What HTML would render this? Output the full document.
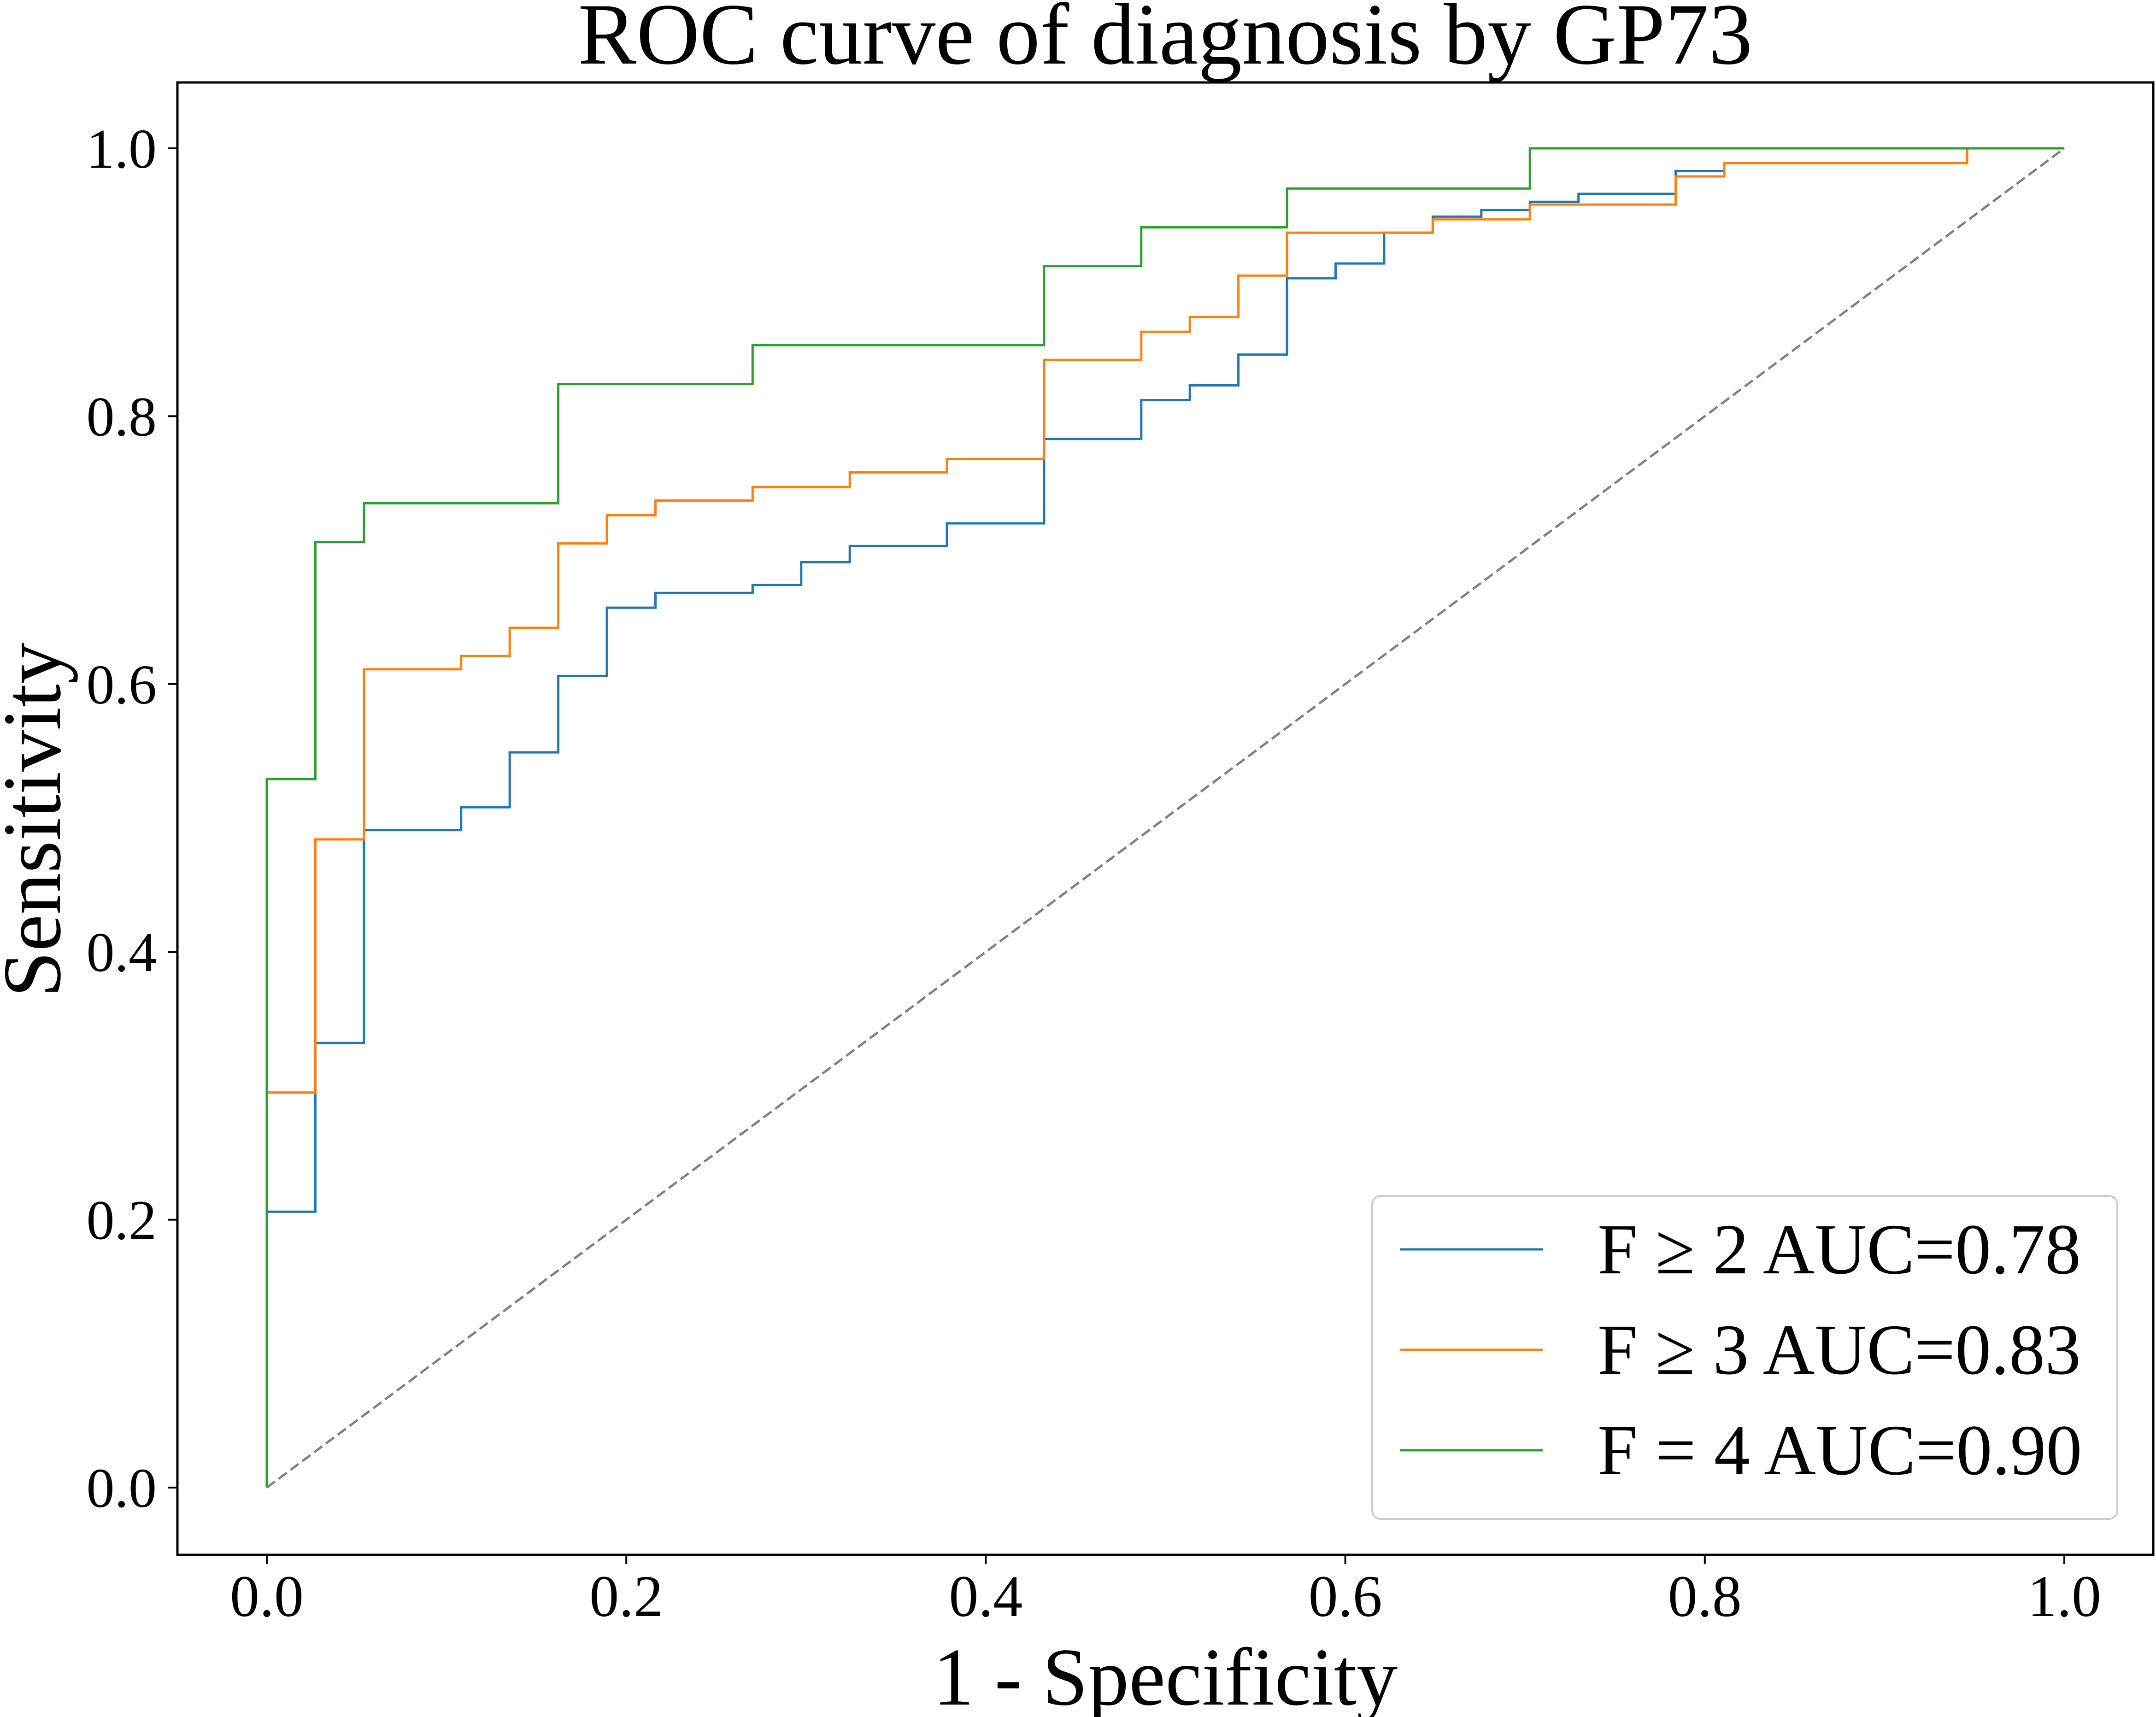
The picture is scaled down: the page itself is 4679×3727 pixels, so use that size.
<!DOCTYPE html>
<html><head><meta charset="utf-8"><style>
html,body{margin:0;padding:0;background:#fff;}
svg{display:block;font-family:"Liberation Serif","DejaVu Serif",serif;}
</style></head><body>
<svg id="chart" width="4679" height="3727" viewBox="0 0 4679 3727" xmlns="http://www.w3.org/2000/svg">
<rect x="0" y="0" width="4679" height="3727" fill="#fff"/>
<text x="2529" y="138" font-size="190" text-anchor="middle">ROC curve of diagnosis by GP73</text>
<text x="2529" y="3700" font-size="178" text-anchor="middle">1 - Specificity</text>
<text x="0" y="0" font-size="180" text-anchor="middle" transform="translate(130,1780) rotate(-90)">Sensitivity</text>
<g id="plot"></g>
<rect x="385" y="179" width="4288" height="3196" fill="none" stroke="#000" stroke-width="5"/>
<g id="legend"></g>
</svg>
<script>
const N = 37;
const ticks = [0, 0.2, 0.4, 0.6, 0.8, 1.0];
const tickLabels = ["0.0", "0.2", "0.4", "0.6", "0.8", "1.0"];
const f2X = [0,0,1,1,2,2,4,4,5,5,6,6,7,7,8,8,10,10,11,11,12,12,14,14,16,16,18,18,19,19,20,20,21,21,22,22,23,23,24,24,25,25,26,26,27,27,29,29,30,30,35,35,37];
const f2Y = [0,0.206,0.206,0.332,0.332,0.491,0.491,0.508,0.508,0.549,0.549,0.606,0.606,0.657,0.657,0.668,0.668,0.674,0.674,0.691,0.691,0.703,0.703,0.720,0.720,0.783,0.783,0.812,0.812,0.823,0.823,0.846,0.846,0.903,0.903,0.914,0.914,0.937,0.937,0.949,0.949,0.954,0.954,0.960,0.960,0.966,0.966,0.983,0.983,0.989,0.989,1,1];
const f3X = [0,0,1,1,2,2,4,4,5,5,6,6,7,7,8,8,10,10,12,12,14,14,16,16,18,18,19,19,20,20,21,21,24,24,26,26,29,29,30,30,35,35,37];
const f3Y = [0,0.295,0.295,0.484,0.484,0.611,0.611,0.621,0.621,0.642,0.642,0.705,0.705,0.726,0.726,0.737,0.737,0.747,0.747,0.758,0.758,0.768,0.768,0.842,0.842,0.863,0.863,0.874,0.874,0.905,0.905,0.937,0.937,0.947,0.947,0.958,0.958,0.979,0.979,0.989,0.989,1,1];
const f4X = [0,0,1,1,2,2,6,6,10,10,16,16,18,18,21,21,26,26,37];
const f4Y = [0,0.529,0.529,0.706,0.706,0.735,0.735,0.824,0.824,0.853,0.853,0.912,0.912,0.941,0.941,0.970,0.970,1,1];
const legendLabels = ["F \u2265 2 AUC=0.78", "F \u2265 3 AUC=0.83", "F = 4 AUC=0.90"];
const colors = ["#1f77b4", "#ff7f0e", "#2ca02c"];

const NS = "http://www.w3.org/2000/svg";
const sx = v => 579 + v * 3901;
const sy = v => 3229 - v * 2907;
const plot = document.getElementById('plot');
const svg = document.getElementById('chart');
function mk(tag, attrs, parent) {
  const e = document.createElementNS(NS, tag);
  for (const k in attrs) e.setAttribute(k, attrs[k]);
  parent.appendChild(e);
  return e;
}
ticks.forEach((t, i) => {
  let l = mk('line', {x1: sx(t), x2: sx(t), y1: 3375, y2: 3395, stroke: '#000', 'stroke-width': 4}, svg);
  
  
  let tx = mk('text', {x: sx(t), y: 3508, 'font-size': 128, 'text-anchor': 'middle'}, svg);
  tx.textContent = tickLabels[i];
  
  
  let l2 = mk('line', {x1: 365, x2: 385, y1: sy(t), y2: sy(t), stroke: '#000', 'stroke-width': 4}, svg);
  
  
  let ty = mk('text', {x: 340, y: sy(t) + 42, 'font-size': 122, 'text-anchor': 'end'}, svg);
  ty.textContent = tickLabels[i];
  
  
});
const diag = mk('line', {x1: sx(0), y1: sy(0), x2: sx(1), y2: sy(1), stroke: '#808080', 'stroke-width': 5, 'stroke-dasharray': '22 10'}, plot);


[[f2X, f2Y], [f3X, f3Y], [f4X, f4Y]].forEach((s, k) => {
  const pts = s[0].map((x, i) => sx(x / N).toFixed(1) + ',' + sy(s[1][i]).toFixed(1)).join(' ');
  const p = mk('polyline', {points: pts, fill: 'none', stroke: colors[k], 'stroke-width': 5}, plot);
  
  
});
const lg = document.getElementById('legend');
const box = mk('rect', {x: 2978, y: 2596, width: 1617, height: 701, rx: 18, fill: '#fff', 'fill-opacity': 0.8, stroke: '#ccc', 'stroke-width': 4}, lg);


legendLabels.forEach((lab, i) => {
  const y = 2712 + i * 218;
  const ln = mk('line', {x1: 3038, x2: 3348, y1: y, y2: y, stroke: colors[i], 'stroke-width': 5}, lg);
  
  
  const t = mk('text', {x: 3467, y: y + 52, 'font-size': 156}, lg);
  t.textContent = lab;
  
  
});
</script>
</body></html>
